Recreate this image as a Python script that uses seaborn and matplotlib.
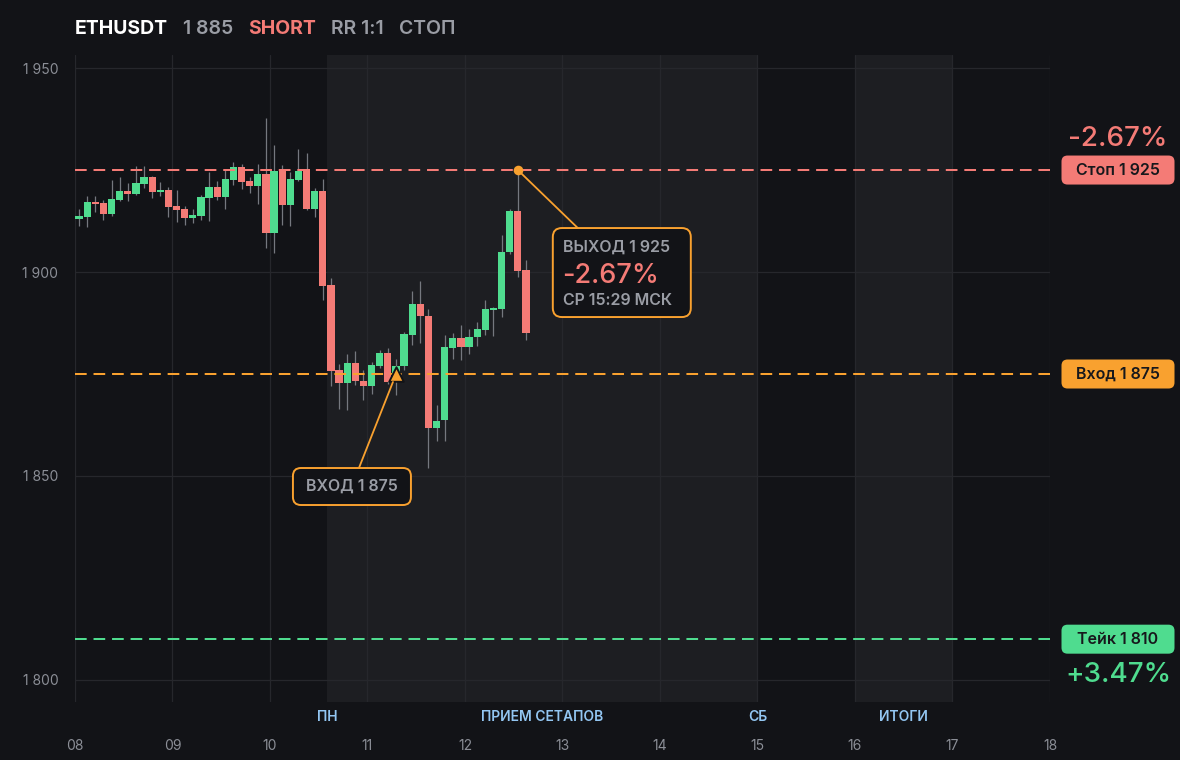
import numpy as np
import pandas as pd
import matplotlib
matplotlib.use("Agg")
import matplotlib.pyplot as plt
import matplotlib.dates as mdates
from matplotlib.patches import FancyBboxPatch
from matplotlib.lines import Line2D
from matplotlib.transforms import IdentityTransform, blended_transform_factory
import seaborn as sns

# ---------------- data ----------------
symbol = "ETHUSDT"
side = "SHORT"
rr_label = "RR 1:1"
outcome = "СТОП"
start_time = "2023-07-08 00:00"

opens = [1913.1, 1913.6, 1917.2, 1917.0, 1914.3, 1917.7, 1919.9, 1919.2, 1921.6, 1923.3,
         1919.6, 1920.1, 1916.2, 1915.4, 1913.3, 1913.8, 1918.2, 1920.8, 1918.5, 1922.6,
         1925.7, 1922.3, 1921.2, 1924.0, 1909.6, 1924.8, 1916.5, 1922.6, 1925.2, 1915.5,
         1919.9, 1896.8, 1876.0, 1872.9, 1877.7, 1873.3, 1872.1, 1877.0, 1880.1, 1873.5,
         1877.0, 1884.6, 1892.2, 1889.2, 1861.8, 1863.7, 1881.4, 1883.8, 1881.6, 1884.1,
         1885.8, 1890.7, 1891.0, 1904.9, 1915.0, 1900.5]
closes = [1913.7, 1917.2, 1916.7, 1914.3, 1917.9, 1919.9, 1919.2, 1921.8, 1923.3, 1919.7,
          1920.1, 1916.0, 1915.3, 1913.3, 1913.9, 1918.4, 1920.8, 1918.5, 1922.8, 1925.7,
          1922.1, 1921.2, 1924.0, 1909.6, 1924.8, 1916.5, 1922.8, 1924.8, 1915.5, 1919.9,
          1896.6, 1875.8, 1872.9, 1877.7, 1873.3, 1872.1, 1877.2, 1880.1, 1873.0, 1877.0,
          1884.8, 1892.2, 1889.2, 1861.8, 1863.5, 1881.6, 1883.8, 1881.6, 1884.1, 1886.0,
          1890.9, 1891.2, 1904.9, 1915.0, 1900.3, 1885.0]
highs = [1915.4, 1918.6, 1918.6, 1917.6, 1922.5, 1923.3, 1921.8, 1926.0, 1926.0, 1923.5,
         1922.1, 1920.8, 1920.1, 1916.2, 1915.4, 1918.9, 1924.5, 1922.3, 1925.0, 1927.0,
         1926.5, 1923.3, 1926.5, 1937.7, 1931.1, 1926.2, 1924.5, 1930.1, 1929.2, 1920.6,
         1922.8, 1898.5, 1877.5, 1879.9, 1880.6, 1876.0, 1877.9, 1881.0, 1881.4, 1878.7,
         1885.3, 1895.3, 1897.8, 1890.9, 1867.4, 1884.6, 1885.0, 1887.0, 1886.0, 1887.7,
         1893.1, 1891.5, 1909.1, 1915.5, 1925.3, 1902.9]
lows = [1911.3, 1911.1, 1914.8, 1912.7, 1913.8, 1917.5, 1917.5, 1918.8, 1920.7, 1918.2,
        1918.6, 1913.6, 1912.3, 1911.6, 1912.1, 1912.8, 1912.6, 1917.7, 1915.5, 1921.4,
        1920.4, 1919.4, 1916.7, 1906.0, 1904.7, 1911.6, 1911.3, 1922.4, 1915.3, 1913.6,
        1893.2, 1872.0, 1866.5, 1866.2, 1872.3, 1868.6, 1870.0, 1876.5, 1872.5, 1869.8,
        1876.0, 1882.0, 1882.6, 1852.0, 1858.6, 1858.6, 1878.7, 1878.5, 1879.9, 1881.9,
        1884.6, 1884.3, 1889.0, 1904.5, 1898.9, 1883.3]

entry_price = 1875
stop_price = 1925
take_price = 1810
entry_idx = 39
exit_idx = 54
exit_price = 1925
exit_time_label = "СР 15:29 МСК"

session_spans = [("2023-07-10 14:00", "2023-07-15 00:00"), ("2023-07-16 00:00", "2023-07-17 00:00")]
session_labels = ["ПН", "ПРИЕМ СЕТАПОВ", "СБ", "ИТОГИ"]
session_label_times = ["2023-07-10 14:00", "2023-07-12 19:00", "2023-07-15 00:00", "2023-07-16 12:00"]
y_ticks = [1800, 1850, 1900, 1950]
x_start, x_end = "2023-07-08", "2023-07-18"

# ---------------- style ----------------
BG = "#121317"
BAND = "#1d1e22"
GRID = "#26272c"
GREEN = "#4fdc8f"
RED = "#f47b76"
ORANGE = "#f9a12f"
WICK = "#75787f"
TICK = "#8b8e96"
HEAD_GRAY = "#9a9da5"
BLUE = "#93c6f2"
DARK_TXT = "#17181c"

sns.set_theme(style="dark", rc={
    "figure.facecolor": BG, "axes.facecolor": BG, "savefig.facecolor": BG,
    "axes.edgecolor": BG, "grid.color": GRID, "axes.grid": True,
    "xtick.color": TICK, "ytick.color": TICK,
})
plt.rcParams["font.family"] = ["Inter", "DejaVu Sans"]

W, H = 1180, 760
fig = plt.figure(figsize=(W / 100, H / 100), dpi=100)
ax = fig.add_axes([75 / W, 58 / H, 975 / W, 647 / H])

def fmt(v):
    return f"{v:,.0f}".replace(",", " ")

times = pd.date_range(start_time, periods=len(opens), freq="2h") + pd.Timedelta(hours=1)
xs = mdates.date2num(times)
o = np.array(opens); c = np.array(closes); hi = np.array(highs); lo = np.array(lows)
up = c >= o
colors = np.where(up, GREEN, RED)

ax.set_xlim(mdates.date2num(pd.Timestamp(x_start)), mdates.date2num(pd.Timestamp(x_end)))
ax.set_ylim(1794.6, 1953.2)

for a, b in session_spans:
    ax.axvspan(mdates.date2num(pd.Timestamp(a)), mdates.date2num(pd.Timestamp(b)),
               color=BAND, zorder=0, lw=0)

ax.grid(True, color=GRID, lw=0.9, zorder=1)
ax.set_axisbelow(True)

ax.vlines(xs, lo, hi, color=WICK, lw=0.9, zorder=2)
bw = 0.9 / 12
ax.bar(xs, np.maximum(np.abs(c - o), 0.35), bottom=np.minimum(o, c), width=bw,
       color=colors, lw=0, zorder=3)

dash = (5.8, 3.4)
ax.axhline(stop_price, color=RED, lw=1.45, dashes=dash, zorder=4)
ax.axhline(entry_price, color=ORANGE, lw=1.45, dashes=dash, zorder=4)
ax.axhline(take_price, color=GREEN, lw=1.45, dashes=dash, zorder=4)

# markers
sns.scatterplot(x=[xs[entry_idx]], y=[entry_price], marker="^", s=110, color=ORANGE,
                edgecolor=BG, linewidth=1.4, zorder=7, ax=ax, legend=False)
sns.scatterplot(x=[xs[exit_idx]], y=[exit_price], marker="o", s=48, color=ORANGE,
                edgecolor=ORANGE, linewidth=0, zorder=7, ax=ax, legend=False)

# axes ticks
ax.set_yticks(y_ticks)
ax.set_yticklabels([fmt(v) for v in y_ticks])
ax.xaxis.set_major_locator(mdates.DayLocator())
ax.xaxis.set_major_formatter(mdates.DateFormatter("%d"))
ax.tick_params(axis="y", length=0, pad=12, labelsize=10, labelcolor=TICK)
ax.tick_params(axis="x", length=0, pad=27, labelsize=10, labelcolor=TICK)
for s in ax.spines.values():
    s.set_visible(False)
ax.set_xlabel(""); ax.set_ylabel("")

# session labels
bt = blended_transform_factory(ax.transData, ax.transAxes)
for t, lab in zip(session_label_times, session_labels):
    ax.text(mdates.date2num(pd.Timestamp(t)), -0.0235, lab, transform=bt, ha="center",
            va="center", color=BLUE, fontsize=10, fontweight="semibold", clip_on=False)

# header
renderer = fig.canvas.get_renderer()
hx = 75
head = [(symbol, "white", "bold"), (fmt(closes[-1]), HEAD_GRAY, "semibold"),
        (side, RED, "bold"), (rr_label, HEAD_GRAY, "semibold"), (outcome, HEAD_GRAY, "semibold")]
for txt, col, wt in head:
    t = fig.text(hx / W, 1 - 34.5 / H, txt, color=col, fontsize=14, fontweight=wt,
                 ha="left", va="baseline")
    bb = t.get_window_extent(renderer)
    hx = bb.x1 + 15

IDT = IdentityTransform()

def px_of(xv, yv):
    return ax.transData.transform((xv, yv))

def pill(cx, cy, w, h, fc, ec=None, lw=0, r=6):
    p = FancyBboxPatch((cx - w / 2, cy - h / 2), w, h,
                       boxstyle=f"round,pad=0,rounding_size={r}",
                       fc=fc, ec=ec if ec else fc, lw=lw, transform=IDT, zorder=8)
    fig.add_artist(p)

# right-side price labels
rx = ax.transAxes.transform((1, 0))[0] + 68
loss_pct = (entry_price - stop_price) / entry_price * 100
gain_pct = (entry_price - take_price) / entry_price * 100
for price, col, lab in [(stop_price, RED, "Стоп"), (entry_price, ORANGE, "Вход"),
                        (take_price, GREEN, "Тейк")]:
    py = px_of(xs[0], price)[1]
    pill(rx, py, 113, 29, col)
    fig.text(rx, py, f"{lab} {fmt(price)}", transform=IDT, ha="center", va="center",
             color=DARK_TXT, fontsize=11.5, fontweight="semibold", zorder=9)
sy = px_of(xs[0], stop_price)[1]
ty = px_of(xs[0], take_price)[1]
fig.text(rx, sy + 31, f"{loss_pct:.2f}%", transform=IDT, ha="center",
         va="center", color=RED, fontsize=20, fontweight="medium", zorder=9)
fig.text(rx, ty - 36, f"+{gain_pct:.2f}%", transform=IDT, ha="center",
         va="center", color=GREEN, fontsize=20, fontweight="medium", zorder=9)

# exit annotation box
mx, my = px_of(xs[exit_idx], exit_price)
bl, btop, bwid, bht = mx + 35, my - 58, 138, 89
box = FancyBboxPatch((bl, btop - bht), bwid, bht, boxstyle="round,pad=0,rounding_size=9",
                     fc=BG, ec=ORANGE, lw=1.4, transform=IDT, zorder=8)
fig.add_artist(Line2D([mx, mx + 60], [my, btop], color=ORANGE, lw=1.3, transform=IDT, zorder=6))
fig.add_artist(box)
fig.text(bl + 10, btop - 24, f"ВЫХОД {fmt(exit_price)}", transform=IDT, ha="left",
         va="baseline", color=HEAD_GRAY, fontsize=11.5, fontweight="semibold", zorder=9)
fig.text(bl + 9, btop - 55, f"{loss_pct:.2f}%", transform=IDT, ha="left",
         va="baseline", color=RED, fontsize=19.5, fontweight="medium", zorder=9)
fig.text(bl + 10, btop - 77, exit_time_label, transform=IDT, ha="left",
         va="baseline", color=HEAD_GRAY, fontsize=11.5, fontweight="semibold", zorder=9)

# entry annotation box
ex, ey = px_of(xs[entry_idx], entry_price)
el, etop, ew, eh = ex - 103, ey - 94, 118, 37
fig.add_artist(Line2D([ex - 3, ex - 37], [ey - 8, etop], color=ORANGE, lw=1.3,
                      transform=IDT, zorder=6))
fig.add_artist(FancyBboxPatch((el, etop - eh), ew, eh, boxstyle="round,pad=0,rounding_size=8",
                              fc=BG, ec=ORANGE, lw=1.4, transform=IDT, zorder=8))
fig.text(el + ew / 2, etop - eh / 2, f"ВХОД {fmt(entry_price)}", transform=IDT,
         ha="center", va="center", color=HEAD_GRAY, fontsize=11.5, fontweight="semibold", zorder=9)

fig.savefig("out.png", dpi=100)
